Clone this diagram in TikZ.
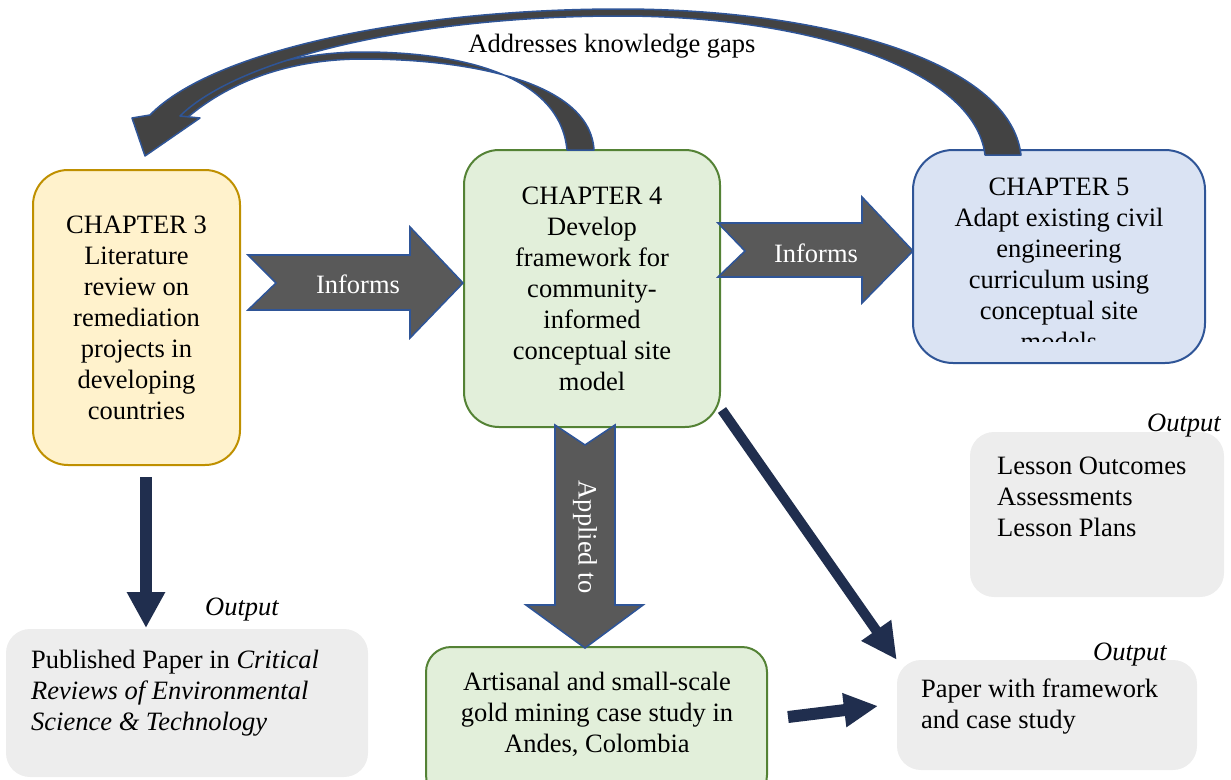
\documentclass[tikz,border=0pt]{standalone}
\usepackage{fontspec}
\setmainfont{Liberation Serif}
\usetikzlibrary{arrows.meta,calc}
\definecolor{yfill}{HTML}{FFF2CC}
\definecolor{ydraw}{HTML}{BF9000}
\definecolor{gfill}{HTML}{E2EFDA}
\definecolor{gdraw}{HTML}{548235}
\definecolor{bfill}{HTML}{DAE3F3}
\definecolor{bdraw}{HTML}{2F5597}
\definecolor{ofill}{HTML}{EDEDED}
\definecolor{afill}{HTML}{595959}
\definecolor{cfill}{HTML}{434343}
\definecolor{navy}{RGB}{32,46,78}
\begin{document}
\begin{tikzpicture}[x=1pt,y=-1pt,
  txt/.style={font=\fontsize{26.5}{31}\selectfont, inner sep=0pt},
  chbox/.style={rounded corners=35pt, line width=2pt, inner sep=0pt, align=center, font=\fontsize{26.5}{31}\selectfont},
  outbox/.style={rounded corners=24pt, fill=ofill, draw=none, inner sep=0pt},
  bigarrow/.style={fill=afill, draw=bdraw, line width=1.6pt, line join=miter},
  curvearrow/.style={fill=cfill, draw=bdraw, line width=1.5pt, line join=round},
  navyarrow/.style={draw=navy, -{Triangle[width=36pt,length=36pt]}, line width=12pt},
  outlabel/.style={txt, font=\fontsize{26.5}{31}\selectfont\itshape}
]
\useasboundingbox (0,0) rectangle (1231,779);

% chapter boxes
\node[chbox, fill=yfill, draw=ydraw, minimum width=207pt, minimum height=295pt] (c3) at (136.5,317.5)
  {CHAPTER 3\\Literature\\review on\\remediation\\projects in\\developing\\countries};
\node[chbox, fill=gfill, draw=gdraw, minimum width=256pt, minimum height=277pt] (c4) at (592,288.5)
  {CHAPTER 4\\Develop\\framework for\\community-\\informed\\conceptual site\\model};
\node[chbox, fill=bfill, draw=bdraw, rounded corners=40pt, minimum width=292pt, minimum height=213pt] (c5) at (1059,256.5) {};
\begin{scope}
  \clip (913,150) rectangle (1205,341);
  \node[txt, align=center, anchor=center] (c5t) at (1059,264.5)
    {CHAPTER 5\\Adapt existing civil\\engineering\\curriculum using\\conceptual site\\models};
\end{scope}

% output boxes
\node[outbox, minimum width=362pt, minimum height=148pt] (o1) at (187,703) {};
\node[txt, align=left, anchor=west] (o1t) at (31,693)
  {Published Paper in \textit{Critical}\\\textit{Reviews of Environmental}\\\textit{Science \& Technology}};
\node[outlabel] (o1l) at (242,610) {Output};

\node[outbox, minimum width=254pt, minimum height=165pt] (o2) at (1097,514.5) {};
\node[txt, align=left, anchor=west] (o2t) at (997,497) {Lesson Outcomes\\Assessments\\Lesson Plans};
\node[outlabel] (o2l) at (1184,426) {Output};

\node[outbox, minimum width=300pt, minimum height=110pt] (o3) at (1047,715) {};
\node[txt, align=left, anchor=west] (o3t) at (921,707) {Paper with framework\\and case study};
\node[outlabel] (o3l) at (1130,655) {Output};

\node[chbox, fill=gfill, draw=gdraw, rounded corners=25pt, minimum width=341pt, minimum height=153pt] (g) at (596.5,723.5) {};
\node[txt, align=center] (gt) at (597,714) {Artisanal and small-scale\\gold mining case study in\\Andes, Colombia};

% Informs arrows
\draw[bigarrow] (248,255) -- (410,255) -- (410,227) -- (463,283) -- (410,338) -- (410,310) -- (248,310) -- (276,283) -- cycle;
\node[txt, text=white] (inf1) at (358,284) {Informs};
\draw[bigarrow] (718,223) -- (862,223) -- (862,197) -- (913,251) -- (862,303) -- (862,277) -- (718,277) -- (745,251) -- cycle;
\node[txt, text=white] (inf2) at (816,253) {Informs};

% Applied to arrow
\draw[bigarrow] (555,425) -- (585,445) -- (615,425) -- (615,605) -- (643,605) -- (585,648) -- (526,605) -- (555,605) -- cycle;
\node[txt, text=white, rotate=-90] (app) at (585,537) {Applied to};

% curved arrows
\draw[curvearrow] (567,150) .. controls (560,75) and (460,52) .. (363,52)
  .. controls (280,52) and (205,82) .. (160,117) -- (188,117)
  .. controls (232,80) and (292,59) .. (363,59)
  .. controls (470,59) and (590,82) .. (594,150) -- cycle;
\draw[curvearrow] (1021,155) .. controls (1010,60) and (820,9) .. (620,9)
  .. controls (420,9) and (215,48) .. (150,115) -- (132,118) -- (145,156) -- (200,118) -- (180,116)
  .. controls (240,57) and (420,16) .. (620,16)
  .. controls (810,16) and (975,70) .. (985,155) -- cycle;
\node[txt] (gaps) at (612,46) {Addresses knowledge gaps};

% navy arrows
\coordinate (a1s) at (146,477);
\coordinate (a1e) at (146,628);
\draw[navyarrow] (a1s) -- (a1e);
\coordinate (a2s) at (722,410);
\draw[navyarrow, line width=10pt, -{Triangle[width=34pt,length=36pt]}] (a2s) -- (o3.north west);
\coordinate (a3s) at (788,717);
\coordinate (a3e) at (878,706);
\draw[navyarrow, -{Triangle[width=32pt,length=34pt]}] (a3s) -- (a3e);
\end{tikzpicture}
\end{document}
